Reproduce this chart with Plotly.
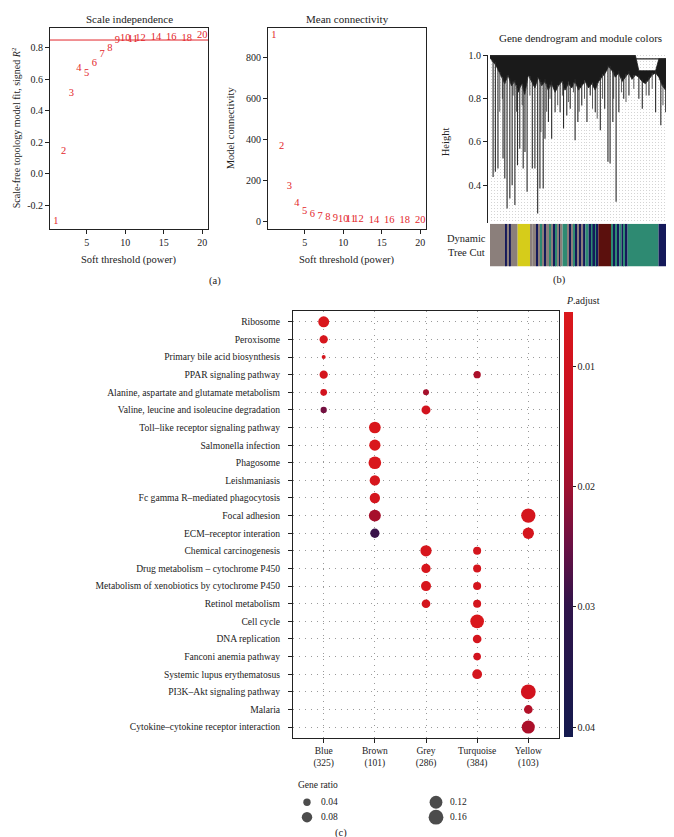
import numpy as np
import plotly.graph_objects as go

# ---------------- data: panel (a) soft-threshold ----------------
powers = [1, 2, 3, 4, 5, 6, 7, 8, 9, 10, 11, 12, 14, 16, 18, 20]
scale_free_r2 = [-0.30, 0.14, 0.51, 0.67, 0.64, 0.70, 0.76, 0.80, 0.85, 0.863,
                 0.857, 0.863, 0.865, 0.865, 0.86, 0.88]
mean_connectivity = [911, 366, 172, 89, 50, 34, 24, 18, 14, 11, 9, 8, 5, 4, 3, 2]
r2_threshold = 0.85
r2_ticks = [-0.2, 0.0, 0.2, 0.4, 0.6, 0.8]
k_ticks = [0, 200, 400, 600, 800]
power_ticks = [5, 10, 15, 20]

# ---------------- data: panel (b) dendrogram ----------------
height_ticks = [0.4, 0.6, 0.8, 1.0]
# long branches hanging below the dense canopy (leaf position, lowest height)
leaf_pos = [19, 33, 49, 80, 91, 105, 122, 136, 153, 169, 183, 204, 215, 228, 260, 276,
            293, 307, 327, 338, 359, 379, 400, 431, 452, 472, 493, 523, 540, 564, 596,
            616, 647, 678, 705, 725, 738, 755, 775, 792, 822, 854, 915, 936, 977, 1018,
            1050, 1080, 1111, 1142, 1162]
leaf_low = [0.438, 0.462, 0.477, 0.523, 0.431, 0.292, 0.338, 0.400, 0.308, 0.492, 0.569,
            0.477, 0.554, 0.369, 0.477, 0.477, 0.269, 0.385, 0.385, 0.615, 0.692, 0.615,
            0.738, 0.738, 0.662, 0.723, 0.754, 0.608, 0.692, 0.769, 0.692, 0.815, 0.738,
            0.654, 0.754, 0.508, 0.500, 0.692, 0.323, 0.738, 0.800, 0.815, 0.800, 0.754,
            0.815, 0.738, 0.677, 0.738, 0.815, 0.723, 0.800]
# shorter branches (leaf position, lowest height)
branch_pos = [60, 76, 142, 163, 198, 245, 313, 348, 369, 416, 445, 482, 513, 548, 581,
              630, 659, 692, 760, 808, 836, 884, 960, 997, 1063, 1096, 1131, 1152]
branch_low = [0.74, 0.80, 0.815, 0.74, 0.77, 0.815, 0.646, 0.74, 0.80, 0.77, 0.815, 0.785,
              0.83, 0.74, 0.80, 0.754, 0.708, 0.80, 0.80, 0.83, 0.785, 0.846, 0.815, 0.846,
              0.77, 0.83, 0.754, 0.83]
# dense canopy outline (leaf position, upper and lower heights)
canopy_pos = [0, 19, 33, 49, 70, 91, 111, 132, 152, 173, 194, 214, 235, 255, 276, 297,
              317, 338, 358, 379, 400, 420, 441, 461, 482, 503, 523, 544, 564, 585, 606,
              626, 647, 667, 688, 709, 729, 750, 770, 791, 812, 832, 853, 873, 894, 915,
              935, 956, 976, 997, 1018, 1038, 1059, 1079, 1100, 1121, 1141, 1162, 1174]
canopy_top = [1.0] * 45 + [0.93, 0.93, 0.93, 0.93, 0.93, 0.93,
                           0.985, 0.985, 0.985, 0.985, 0.985, 0.985, 0.985, 0.985]
canopy_low = [0.99, 0.97, 0.96, 0.93, 0.90, 0.87, 0.91, 0.86, 0.88, 0.83, 0.87, 0.82,
              0.91, 0.88, 0.85, 0.90, 0.86, 0.88, 0.84, 0.87, 0.83, 0.86, 0.88, 0.84,
              0.87, 0.85, 0.88, 0.84, 0.86, 0.88, 0.85, 0.87, 0.84, 0.88, 0.90, 0.92,
              0.95, 0.93, 0.90, 0.92, 0.88, 0.90, 0.92, 0.89, 0.91, 0.90, 0.88, 0.87,
              0.89, 0.91, 0.92, 0.90, 0.86, 0.84, 0.88, 0.85, 0.82, 0.86, 0.90]
# merge bars across the top of the tree (from, to, height)
merge_from = [0, 894]
merge_to = [894, 1174]
merge_height = [1.0, 0.985]

block_module = ["grey", "blue", "grey", "blue", "grey", "yellow", "grey", "grey", "blue",
                "grey", "turquoise", "grey", "blue", "grey", "turquoise", "grey", "blue",
                "turquoise", "grey", "blue", "grey", "turquoise", "grey", "blue", "grey",
                "blue", "turquoise", "blue", "grey", "blue", "grey", "blue", "turquoise",
                "blue", "turquoise", "blue", "turquoise", "blue", "brown", "turquoise",
                "blue", "turquoise", "blue", "turquoise", "blue", "turquoise", "blue",
                "turquoise", "blue", "turquoise"]
block_size = [96, 8, 18, 6, 42, 78, 12, 24, 12, 12, 12, 12, 12, 24, 12, 12, 12, 12, 10,
              10, 10, 30, 12, 12, 12, 4, 10, 10, 12, 12, 12, 14, 20, 18, 6, 18, 6, 12, 80,
              12, 12, 12, 12, 14, 14, 12, 12, 190, 130, 8]
module_color = {"grey": "#8B7F7B", "blue": "#15195A", "turquoise": "#2E8A72",
                "brown": "#5B100D", "yellow": "#D6CC1A"}

# ---------------- data: panel (c) enrichment dot plot ----------------
modules = ["Blue", "Brown", "Grey", "Turquoise", "Yellow"]
module_genes = [325, 101, 286, 384, 103]
pathways = [
    "Ribosome", "Peroxisome", "Primary bile acid biosynthesis", "PPAR signaling pathway",
    "Alanine, aspartate and glutamate metabolism",
    "Valine, leucine and isoleucine degradation",
    "Toll–like receptor signaling pathway", "Salmonella infection", "Phagosome",
    "Leishmaniasis", "Fc gamma R–mediated phagocytosis", "Focal adhesion",
    "ECM–receptor interation", "Chemical carcinogenesis",
    "Drug metabolism – cytochrome P450", "Metabolism of xenobiotics by cytochrome P450",
    "Retinol metabolism", "Cell cycle", "DNA replication", "Fanconi anemia pathway",
    "Systemic lupus erythematosus", "PI3K–Akt signaling pathway", "Malaria",
    "Cytokine–cytokine receptor interaction"]
dot_pathway = [
    "Ribosome", "Peroxisome", "Primary bile acid biosynthesis",
    "PPAR signaling pathway", "PPAR signaling pathway",
    "Alanine, aspartate and glutamate metabolism", "Alanine, aspartate and glutamate metabolism",
    "Valine, leucine and isoleucine degradation", "Valine, leucine and isoleucine degradation",
    "Toll–like receptor signaling pathway", "Salmonella infection", "Phagosome",
    "Leishmaniasis", "Fc gamma R–mediated phagocytosis",
    "Focal adhesion", "Focal adhesion", "ECM–receptor interation", "ECM–receptor interation",
    "Chemical carcinogenesis", "Chemical carcinogenesis",
    "Drug metabolism – cytochrome P450", "Drug metabolism – cytochrome P450",
    "Metabolism of xenobiotics by cytochrome P450", "Metabolism of xenobiotics by cytochrome P450",
    "Retinol metabolism", "Retinol metabolism", "Cell cycle", "DNA replication",
    "Fanconi anemia pathway", "Systemic lupus erythematosus", "PI3K–Akt signaling pathway",
    "Malaria", "Cytokine–cytokine receptor interaction"]
dot_module = [
    "Blue", "Blue", "Blue", "Blue", "Turquoise", "Blue", "Grey", "Blue", "Grey",
    "Brown", "Brown", "Brown", "Brown", "Brown", "Brown", "Yellow", "Brown", "Yellow",
    "Grey", "Turquoise", "Grey", "Turquoise", "Grey", "Turquoise", "Grey", "Turquoise",
    "Turquoise", "Turquoise", "Turquoise", "Turquoise", "Yellow", "Yellow", "Yellow"]
dot_ratio = [0.088, 0.050, 0.012, 0.050, 0.039, 0.033, 0.026, 0.029, 0.059,
             0.100, 0.093, 0.118, 0.078, 0.078, 0.105, 0.149, 0.063, 0.093,
             0.093, 0.047, 0.063, 0.047, 0.073, 0.047, 0.055, 0.047,
             0.137, 0.055, 0.042, 0.070, 0.160, 0.055, 0.125]
dot_padj = [0.006, 0.007, 0.008, 0.008, 0.018, 0.009, 0.019, 0.024, 0.009,
            0.006, 0.006, 0.006, 0.007, 0.008, 0.019, 0.008, 0.029, 0.008,
            0.007, 0.008, 0.007, 0.008, 0.007, 0.008, 0.008, 0.008,
            0.006, 0.008, 0.009, 0.008, 0.009, 0.017, 0.018]
padj_ticks = [0.01, 0.02, 0.03, 0.04]
padj_limits = [0.0055, 0.0408]
ratio_legend = [0.04, 0.08, 0.12, 0.16]

# ---------------- helpers (layout only) ----------------
W, H = 674, 837
def px(x):
    return x / W
def py(y):
    return 1 - y / H

FONT = "Liberation Serif"
RED = "#E3262B"
INK = "#222222"
def dot_size(r):
    return 37 * np.sqrt(np.asarray(r))

fig = go.Figure()

# ---- (a) scale independence ----
fig.add_trace(go.Scatter(x=powers, y=scale_free_r2, mode="text", text=[str(p) for p in powers],
                         textfont=dict(family=FONT, size=10.5, color=RED),
                         xaxis="x", yaxis="y", showlegend=False, hoverinfo="skip"))
fig.add_shape(type="line", xref="x domain", yref="y", x0=0, x1=1, y0=r2_threshold,
              y1=r2_threshold, line=dict(color=RED, width=1))
# ---- (a) mean connectivity ----
fig.add_trace(go.Scatter(x=powers, y=mean_connectivity, mode="text", text=[str(p) for p in powers],
                         textfont=dict(family=FONT, size=10.5, color=RED),
                         xaxis="x2", yaxis="y2", showlegend=False, hoverinfo="skip"))

# ---- (b) dendrogram ----
n_leaves = int(np.sum(block_size))
poly_x = list(canopy_pos) + list(canopy_pos[::-1])
poly_y = list(canopy_top) + list(canopy_low[::-1])
fig.add_trace(go.Scatter(x=poly_x, y=poly_y, mode="lines", fill="toself",
                         fillcolor="#1a1a1a", line=dict(color="#1a1a1a", width=0.8),
                         xaxis="x3", yaxis="y3", showlegend=False, hoverinfo="skip"))
bx, by = [], []
for p, e in zip(branch_pos, branch_low):
    s = float(np.interp(p, canopy_pos, canopy_low)) + 0.01
    bx += [p, p, None]
    by += [s, e, None]
fig.add_trace(go.Scatter(x=bx, y=by, mode="lines", line=dict(color="#4a4a4a", width=0.9),
                         xaxis="x3", yaxis="y3", showlegend=False, hoverinfo="skip"))
start_h = np.interp(leaf_pos, canopy_pos, canopy_low) + 0.01
lx, ly = [], []
for p, s, e in zip(leaf_pos, start_h, leaf_low):
    lx += [p, p, None]
    ly += [s, e, None]
for a, b, h in zip(merge_from, merge_to, merge_height):
    lx += [a, b, None]
    ly += [h, h, None]
fig.add_trace(go.Scatter(x=lx, y=ly, mode="lines", line=dict(color="#2a2a2a", width=1.1),
                         xaxis="x3", yaxis="y3", showlegend=False, hoverinfo="skip"))

# ---- (b) module colour strip ----
starts = np.concatenate([[0], np.cumsum(block_size)[:-1]])
centers = starts + np.asarray(block_size) / 2
fig.add_trace(go.Bar(x=centers, y=[1] * len(block_size), width=block_size, base=0,
                     marker=dict(color=[module_color[m] for m in block_module], line=dict(width=0)),
                     xaxis="x4", yaxis="y4", showlegend=False, hoverinfo="skip"))

# ---- (c) dot plot ----
# the colour bar grows downward in the original, so colour is mapped on -P.adjust
dx = [modules.index(m) + 1 for m in dot_module]
dy = [pathways.index(p) + 1 for p in dot_pathway]
colorscale = [[0.0, "#141A4E"], [0.31, "#30144A"], [0.45, "#6A1044"], [0.59, "#A0102E"],
              [0.73, "#BF1024"], [0.873, "#D0121E"], [1.0, "#DA181C"]]
fig.add_trace(go.Scatter(
    x=dx, y=dy, mode="markers", xaxis="x5", yaxis="y5", showlegend=False, hoverinfo="skip",
    marker=dict(size=dot_size(dot_ratio), color=[-v for v in dot_padj], colorscale=colorscale,
                cmin=-padj_limits[1], cmax=-padj_limits[0], line=dict(width=0), opacity=1,
                colorbar=dict(x=px(556), xanchor="left", xpad=0, y=py(300.7), yanchor="top",
                              ypad=0, len=(728 - 300.7) / H, lenmode="fraction",
                              thickness=9, thicknessmode="pixels", outlinewidth=0,
                              tickvals=[-t for t in padj_ticks],
                              ticktext=[f"{t:.2f}" for t in padj_ticks],
                              ticks="outside", ticklen=3, tickcolor=INK,
                              tickfont=dict(family=FONT, size=10, color=INK)))))

# ---- (c) size legend ----
cols = [i // 2 for i in range(len(ratio_legend))]
rows = [i % 2 for i in range(len(ratio_legend))]
fig.add_trace(go.Scatter(x=cols, y=rows, mode="markers", xaxis="x6", yaxis="y6",
                         showlegend=False, hoverinfo="skip", cliponaxis=False,
                         marker=dict(size=dot_size(ratio_legend), color="#000000",
                                     line=dict(width=0))))

annotations = []
for c, r, v in zip(cols, rows, ratio_legend):
    annotations.append(dict(x=c, y=r, xref="x6", yref="y6", text=f"{v:.2f}", showarrow=False,
                            xanchor="left", xshift=12, font=dict(family=FONT, size=9.5, color=INK)))

def ann(text, x, y, size=10.5, xanchor="center", yanchor="middle", angle=0):
    annotations.append(dict(text=text, x=px(x), y=py(y), xref="paper", yref="paper",
                            showarrow=False, xanchor=xanchor, yanchor=yanchor, textangle=angle,
                            font=dict(family=FONT, size=size, color=INK)))

ann("Scale independence", 121, 6, 11)
ann("Mean connectivity", 339, 6, 11)
ann("Soft threshold (power)", 121, 248, 10.5)
ann("Soft threshold (power)", 339, 248, 10.5)
ann("Scale-free topology model fit, signed <i>R</i><sup>2</sup>", 8, 116, 10, angle=-90)
ann("Model connectivity", 222, 116, 10.5, angle=-90)
ann("(a)", 207, 270, 10.5)
ann("Gene dendrogram and module colors", 572, 25, 11)
ann("Height", 437, 130, 10.5, angle=-90)
ann("Dynamic<br>Tree Cut", 458, 234, 10.5)
ann("(b)", 551, 269, 10.5)
ann("<i>P</i>.adjust", 556, 289, 10, xanchor="left")
ann("Gene ratio", 288, 777, 9.5, xanchor="left")
ann("(c)", 333, 825, 10.5)

axis_common = dict(showgrid=False, zeroline=False, showline=True, linecolor=INK, linewidth=1,
                   ticks="outside", ticklen=4, tickcolor=INK,
                   tickfont=dict(family=FONT, size=10, color=INK))
dot_grid = dict(showgrid=True, gridcolor="#9a9a9a", griddash="1px,5px", gridwidth=1)

fig.update_layout(
    width=W, height=H, margin=dict(l=0, r=0, t=0, b=0),
    paper_bgcolor="white", plot_bgcolor="white", showlegend=False,
    annotations=annotations,
    # (a) left
    xaxis=dict(domain=[px(42), px(200)], range=[0.24, 20.76], tickvals=power_ticks,
               mirror=True, anchor="y", **axis_common),
    yaxis=dict(domain=[py(217), py(15)], range=[-0.349, 0.927], tickvals=r2_ticks,
               ticktext=[("-" if t < 0 else "") + f"{abs(t):.1f}" for t in r2_ticks],
               mirror=True, anchor="x", **axis_common),
    # (a) right
    xaxis2=dict(domain=[px(260), px(418)], range=[0.24, 20.76], tickvals=power_ticks,
                mirror=True, anchor="y2", **axis_common),
    yaxis2=dict(domain=[py(217), py(15)], range=[-37, 947], tickvals=k_ticks,
                mirror=True, anchor="x2", **axis_common),
    # (b) dendrogram
    xaxis3=dict(domain=[px(482), px(673)], range=[0, n_leaves], anchor="y3",
                showgrid=True, gridcolor="#d4d4d4", griddash="1px,2px", gridwidth=1,
                tick0=n_leaves / 128, dtick=n_leaves / 64, showticklabels=False,
                ticks="", zeroline=False, showline=False),
    yaxis3=dict(domain=[py(211), py(42)], range=[0.226, 1.004], tickvals=height_ticks,
                ticktext=[f"{t:.1f}" for t in height_ticks], anchor="free", position=px(479),
                **axis_common),
    xaxis4=dict(domain=[px(482), px(673)], range=[0, n_leaves], anchor="y4", visible=False),
    yaxis4=dict(domain=[py(255), py(212)], range=[0, 1], anchor="x4", visible=False),
    # (c) dot plot
    xaxis5=dict(domain=[px(285), px(551)], range=[0.4, 5.6], tickvals=list(range(1, 6)),
                ticktext=[f"{m}<br>({n})" for m, n in zip(modules, module_genes)],
                anchor="y5", mirror=True, showline=True, linecolor=INK, linewidth=1,
                ticks="outside", ticklen=4, tickcolor=INK, zeroline=False,
                tickfont=dict(family=FONT, size=9.5, color=INK), **dot_grid),
    yaxis5=dict(domain=[py(729), py(300)], range=[len(pathways) + 0.6, 0.4],
                tickvals=list(range(1, len(pathways) + 1)), ticktext=pathways,
                anchor="x5", mirror=True, showline=True, linecolor=INK, linewidth=1,
                ticks="outside", ticklen=4, tickcolor=INK, zeroline=False,
                ticklabelstandoff=6,
                tickfont=dict(family=FONT, size=9.6, color=INK), **dot_grid),
    # size legend
    xaxis6=dict(domain=[px(299), px(428)], range=[0, 1], anchor="y6", visible=False),
    yaxis6=dict(domain=[py(809), py(794)], range=[1, 0], anchor="x6", visible=False),
)

fig.write_html("out.html")
